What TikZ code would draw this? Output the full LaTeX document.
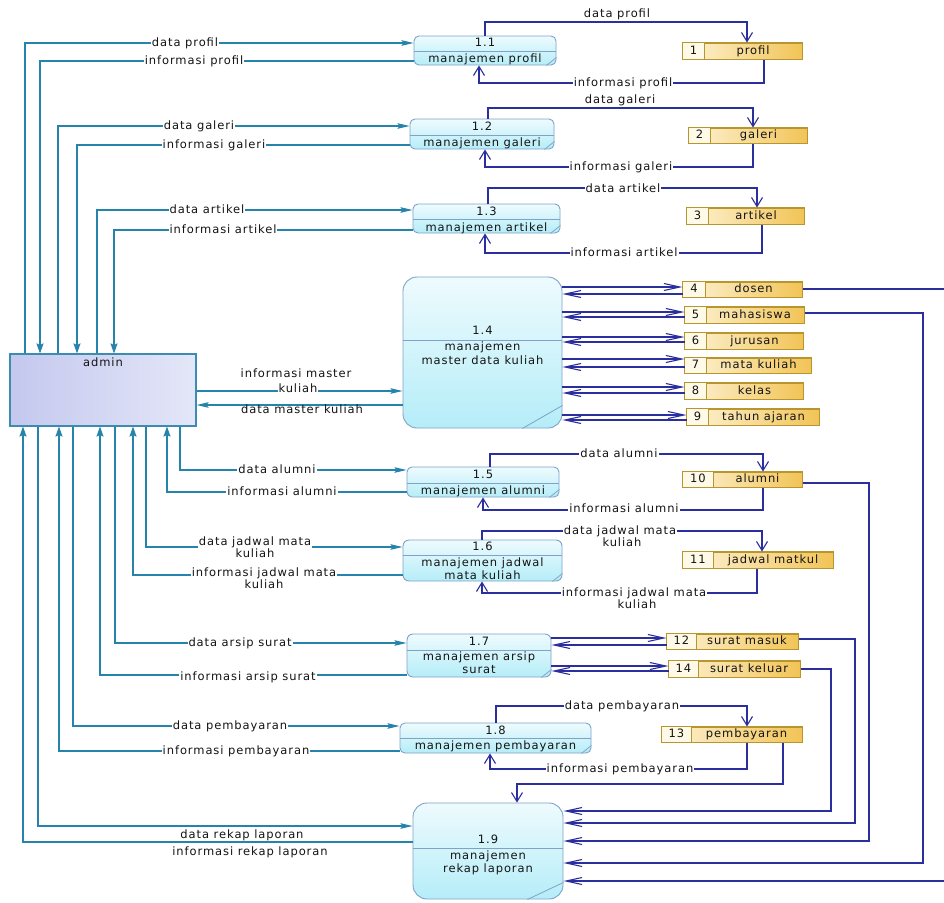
\documentclass[tikz,border=0pt]{standalone}
\usepackage{fontspec}
\setmainfont{DejaVu Sans}
\newfontfamily\lblfont[LetterSpace=8]{DejaVu Sans}
\usetikzlibrary{arrows.meta}
\definecolor{tealc}{HTML}{2683AB}
\definecolor{navyc}{HTML}{2B2E9E}
\definecolor{proclinec}{HTML}{7FA2C8}
\definecolor{procT}{HTML}{EEFBFE}
\definecolor{procB}{HTML}{B5EDF8}
\definecolor{storelinec}{HTML}{B8962E}
\definecolor{storeL}{HTML}{FDF3D6}
\definecolor{storeR}{HTML}{F2C457}
\definecolor{numfillc}{HTML}{FFFAE8}
\definecolor{adminL}{HTML}{C4C8EE}
\definecolor{adminR}{HTML}{E4E6F8}
\definecolor{adminline}{HTML}{3A8DB0}
\definecolor{txtc}{HTML}{141414}

\newcommand{\mkproc}[9]{%
  \node[procbox, rounded corners=#7, minimum width={#4-#2}, minimum height={#5-#3}] (#1) at ({(#2+#4)/2},{(#3+#5)/2}) {};
  \draw[procdiv] (#1.west |- 0,#6) -- (#1.east |- 0,#6);
  \draw[procdiv] ([xshift=-#8pt]#1.south east) -- ([yshift=#9pt]#1.south east);
}
\newcommand{\mkstore}[8]{%
  \node[storebox, minimum width={#4-#2}, minimum height={#5-#3}] (#1) at ({(#2+#4)/2},{(#3+#5)/2}) {};
  \fill[numfillc] (#1.north west) rectangle (#1.south west -| #6,0);
  \draw[storeline] (#1.north west -| #6,0) -- (#1.south west -| #6,0);
  \draw[storeline] (#1.north west) rectangle (#1.south east);
  \node[stxt] (#1n) at ({(#2+#6)/2},{(#3+#5)/2}) {#7};
  \node[stxt] (#1t) at ({(#6+#4)/2},{(#3+#5)/2}) {#8};
}

\begin{document}
\begin{tikzpicture}[x=1pt,y=-1pt,
  tl/.style={draw=tealc, line width=1.2pt},
  nv/.style={draw=navyc, line width=1.1pt},
  arrT/.style={-{Stealth[length=12pt,width=5.5pt,inset=2pt]}},
  arrTV/.style={-{Stealth[length=10pt,width=7pt,inset=1.5pt]}},
  arrNV/.style={-{Straight Barb[length=9pt,width=11pt]}},
  arrNH/.style={-{Straight Barb[length=16pt,width=7pt]}},
  lbl/.style={font=\lblfont\fontsize{11.5}{12.5}\selectfont, text=txtc, inner sep=1pt, align=center, text height=8.5pt, text depth=2.5pt},
  lblw/.style={lbl, fill=white},
  lbl2/.style={font=\lblfont\fontsize{11.5}{12.5}\selectfont, text=txtc, inner sep=1pt, align=center},
  lbl2w/.style={lbl2, fill=white},
  ptxt/.style={lbl},
  stxt/.style={lbl},
  procbox/.style={draw=proclinec, line width=0.9pt, top color=procT, bottom color=procB, inner sep=0pt},
  procdiv/.style={draw=proclinec, line width=0.8pt},
  storebox/.style={draw=storelinec, line width=1pt, left color=storeL, right color=storeR, inner sep=0pt},
  storeline/.style={draw=storelinec, line width=1pt},
  adminbox/.style={draw=adminline, line width=1.1pt, left color=adminL, right color=adminR, inner sep=0pt}
]
\useasboundingbox (0,0) rectangle (944,902);
\fill[white] (0,0) rectangle (944,902);

% ---------- admin ----------
\node[adminbox, minimum width=186, minimum height=72] (admin) at (103,390) {};
\node[lbl] (admint) at (103,363) {admin};

% ---------- processes ----------
\mkproc{p11}{414}{36}{556}{65}{51}{5pt}{10}{8}
\mkproc{p12}{410}{119}{554}{149}{135}{5pt}{10}{8}
\mkproc{p13}{413}{204}{560}{233}{219}{5pt}{10}{8}
\mkproc{p14}{403}{277}{562}{428}{340}{14pt}{40}{23}
\mkproc{p15}{407}{467}{559}{497}{483}{5pt}{10}{8}
\mkproc{p16}{403}{540}{562}{581}{555}{6pt}{10}{8}
\mkproc{p17}{407}{634}{551}{677}{650}{6pt}{10}{8}
\mkproc{p18}{400}{723}{591}{753}{738}{5pt}{10}{8}
\mkproc{p19}{413}{803}{563}{899}{848}{14pt}{36}{17}

\node[ptxt] (p11a) at (485,43) {1.1};
\node[ptxt] (p11b) at (485,59) {manajemen profil};
\node[ptxt] (p12a) at (482,127) {1.2};
\node[ptxt] (p12b) at (482,143) {manajemen galeri};
\node[ptxt] (p13a) at (486.5,212) {1.3};
\node[ptxt] (p13b) at (486.5,228) {manajemen artikel};
\node[ptxt] (p14a) at (482.5,331) {1.4};
\node[ptxt] (p14b) at (482.5,347) {manajemen};
\node[ptxt] (p14c) at (482.5,361) {master data kuliah};
\node[ptxt] (p15a) at (483,475) {1.5};
\node[ptxt] (p15b) at (483,491) {manajemen alumni};
\node[ptxt] (p16a) at (482.5,547) {1.6};
\node[ptxt] (p16b) at (482.5,563) {manajemen jadwal};
\node[ptxt] (p16c) at (482.5,576) {mata kuliah};
\node[ptxt] (p17a) at (479,642) {1.7};
\node[ptxt] (p17b) at (479,657) {manajemen arsip};
\node[ptxt] (p17c) at (479,670) {surat};
\node[ptxt] (p18a) at (495.5,731) {1.8};
\node[ptxt] (p18b) at (495.5,746) {manajemen pembayaran};
\node[ptxt] (p19a) at (488,840) {1.9};
\node[ptxt] (p19b) at (488,856) {manajemen};
\node[ptxt] (p19c) at (488,869) {rekap laporan};

% ---------- stores ----------
\mkstore{s1}{683}{43}{802}{59}{704}{1}{profil}
\mkstore{s2}{689}{128}{807}{143}{710}{2}{galeri}
\mkstore{s3}{687}{208}{804}{224}{708}{3}{artikel}
\mkstore{s4}{683}{282}{802}{297}{705}{4}{dosen}
\mkstore{s5}{685}{307}{804}{323}{706}{5}{mahasiswa}
\mkstore{s6}{685}{333}{803}{349}{706}{6}{jurusan}
\mkstore{s7}{685}{358}{811}{373}{706}{7}{mata kuliah}
\mkstore{s8}{685}{383}{803}{399}{706}{8}{kelas}
\mkstore{s9}{687}{409}{819}{425}{708}{9}{tahun ajaran}
\mkstore{s10}{683}{472}{802}{487}{713}{10}{alumni}
\mkstore{s11}{683}{552}{833}{568}{713}{11}{jadwal matkul}
\mkstore{s12}{667}{634}{798}{649}{696}{12}{surat masuk}
\mkstore{s14}{669}{661}{800}{677}{698}{14}{surat keluar}
\mkstore{s13}{662}{727}{802}{742}{691}{13}{pembayaran}

% ---------- admin <-> processes (teal) ----------
\draw[tl,arrT] (admin.north -| 25,0) |- (p11.west |- 0,43);
\draw[tl,arrTV] (p11.west |- 0,61) -| (admin.north -| 40,0);
\draw[tl,arrT] (admin.north -| 58,0) |- (p12.west |- 0,126);
\draw[tl,arrTV] (p12.west |- 0,145) -| (admin.north -| 77,0);
\draw[tl,arrT] (admin.north -| 97,0) |- (p13.west |- 0,210);
\draw[tl,arrTV] (p13.west |- 0,230) -| (admin.north -| 114,0);
\draw[tl,arrT] (admin.east |- 0,391) -- (p14.west |- 0,391);
\draw[tl,arrT] (p14.west |- 0,405) -- (admin.east |- 0,405);
\draw[tl,arrT] (admin.south -| 180,0) |- (p15.west |- 0,470);
\draw[tl,arrTV] (p15.west |- 0,492) -| (admin.south -| 167,0);
\draw[tl,arrT] (admin.south -| 146,0) |- (p16.west |- 0,547);
\draw[tl,arrTV] (p16.west |- 0,575) -| (admin.south -| 133,0);
\draw[tl,arrT] (admin.south -| 115,0) |- (p17.west |- 0,643);
\draw[tl,arrTV] (p17.west |- 0,675) -| (admin.south -| 100,0);
\draw[tl,arrT] (admin.south -| 73,0) |- (p18.west |- 0,726);
\draw[tl,arrTV] (p18.west |- 0,751) -| (admin.south -| 59,0);
\draw[tl,arrT] (admin.south -| 38,0) |- (p19.west |- 0,826);
\draw[tl,arrTV] (p19.west |- 0,842) -| (admin.south -| 23,0);

% ---------- processes <-> stores (navy) ----------
\draw[nv,arrNV] (p11.north -| 485,0) |- (747,22) -- (s1.north -| 747,0);
\draw[nv,arrNV] (s1.south -| 764,0) |- (479,83) -- (p11.south -| 479,0);
\draw[nv,arrNV] (p12.north -| 488,0) |- (753,108) -- (s2.north -| 753,0);
\draw[nv,arrNV] (s2.south -| 753,0) |- (485,167) -- (p12.south -| 485,0);
\draw[nv,arrNV] (p13.north -| 488,0) |- (757,188) -- (s3.north -| 757,0);
\draw[nv,arrNV] (s3.south -| 762,0) |- (485,253) -- (p13.south -| 485,0);
\draw[nv,arrNV] (p15.north -| 490,0) |- (763,454) -- (s10.north -| 763,0);
\draw[nv,arrNV] (s10.south -| 763,0) |- (483,510) -- (p15.south -| 483,0);
\draw[nv,arrNV] (p16.north -| 482,0) |- (762,531) -- (s11.north -| 762,0);
\draw[nv,arrNV] (s11.south -| 757,0) |- (482,593) -- (p16.south -| 482,0);
\draw[nv,arrNV] (p18.north -| 496,0) |- (747,706) -- (s13.north -| 747,0);
\draw[nv,arrNV] (s13.south -| 747,0) |- (490,769) -- (p18.south -| 490,0);
\draw[nv,arrNV] (s13.south -| 783,0) |- (517,784) -- (p19.north -| 517,0);

\draw[nv,arrNH] (p14.east |- 0,287) -- (s4.west |- 0,287);
\draw[nv,arrNH] (s4.west |- 0,294) -- (p14.east |- 0,294);
\draw[nv,arrNH] (p14.east |- 0,312) -- (s5.west |- 0,312);
\draw[nv,arrNH] (s5.west |- 0,317) -- (p14.east |- 0,317);
\draw[nv,arrNH] (p14.east |- 0,337) -- (s6.west |- 0,337);
\draw[nv,arrNH] (s6.west |- 0,342) -- (p14.east |- 0,342);
\draw[nv,arrNH] (p14.east |- 0,359) -- (s7.west |- 0,359);
\draw[nv,arrNH] (s7.west |- 0,367) -- (p14.east |- 0,367);
\draw[nv,arrNH] (p14.east |- 0,387) -- (s8.west |- 0,387);
\draw[nv,arrNH] (s8.west |- 0,393) -- (p14.east |- 0,393);
\draw[nv,arrNH] (p14.east |- 0,415) -- (s9.west |- 0,415);
\draw[nv,arrNH] (s9.west |- 0,420) -- (p14.east |- 0,420);
\draw[nv,arrNH] (p17.east |- 0,638) -- (s12.west |- 0,638);
\draw[nv,arrNH] (s12.west |- 0,645) -- (p17.east |- 0,645);
\draw[nv,arrNH] (p17.east |- 0,666) -- (s14.west |- 0,666);
\draw[nv,arrNH] (s14.west |- 0,671) -- (p17.east |- 0,671);

% ---------- stores -> 1.9 ----------
\draw[nv,arrNH] (s4.east |- 0,289) -- (950,289) |- (p19.east |- 0,881);
\draw[nv,arrNH] (s5.east |- 0,313) -- (923,313) |- (p19.east |- 0,863);
\draw[nv,arrNH] (s10.east |- 0,483) -- (869,483) |- (p19.east |- 0,841);
\draw[nv,arrNH] (s12.east |- 0,639) -- (855,639) |- (p19.east |- 0,823);
\draw[nv,arrNH] (s14.east |- 0,669) -- (831,669) |- (p19.east |- 0,811);

% ---------- labels left ----------
\node[lblw] (l1) at (185,43) {data profil};
\node[lblw] (l2) at (194,61) {informasi profil};
\node[lblw] (l3) at (199,126) {data galeri};
\node[lblw] (l4) at (214,145) {informasi galeri};
\node[lblw] (l5) at (207,210) {data artikel};
\node[lblw] (l6) at (223,230) {informasi artikel};
\node[lbl] (l7a) at (296,374) {informasi master};
\node[lblw] (l7b) at (298,389) {kuliah};
\node[lbl] (l8) at (302,410) {data master kuliah};
\node[lblw] (l9) at (277,470) {data alumni};
\node[lblw] (l10) at (282,492) {informasi alumni};
\node[lbl2w] (l11) at (255,547) {data jadwal mata\\kuliah};
\node[lbl2w] (l12) at (264,578) {informasi jadwal mata\\kuliah};
\node[lblw] (l13) at (240,643) {data arsip surat};
\node[lblw] (l14) at (248,677) {informasi arsip surat};
\node[lblw] (l15) at (230,726) {data pembayaran};
\node[lblw] (l16) at (236,751) {informasi pembayaran};
\node[lbl] (l17) at (242,835) {data rekap laporan};
\node[lbl] (l18) at (250,852) {informasi rekap laporan};

% ---------- labels right ----------
\node[lbl] (r1) at (617,14) {data profil};
\node[lblw] (r2) at (623,83) {informasi profil};
\node[lbl] (r3) at (620,100) {data galeri};
\node[lblw] (r4) at (621,167) {informasi galeri};
\node[lblw] (r5) at (623,189) {data artikel};
\node[lblw] (r6) at (624,253) {informasi artikel};
\node[lblw] (r7) at (619,454) {data alumni};
\node[lblw] (r8) at (624,509) {informasi alumni};
\node[lblw] (r9a) at (620,531) {data jadwal mata};
\node[lbl] (r9b) at (622,543) {kuliah};
\node[lblw] (r10a) at (634,593) {informasi jadwal mata};
\node[lbl] (r10b) at (637,605) {kuliah};
\node[lblw] (r11) at (622,706) {data pembayaran};
\node[lblw] (r12) at (620,769) {informasi pembayaran};
\end{tikzpicture}
\end{document}
